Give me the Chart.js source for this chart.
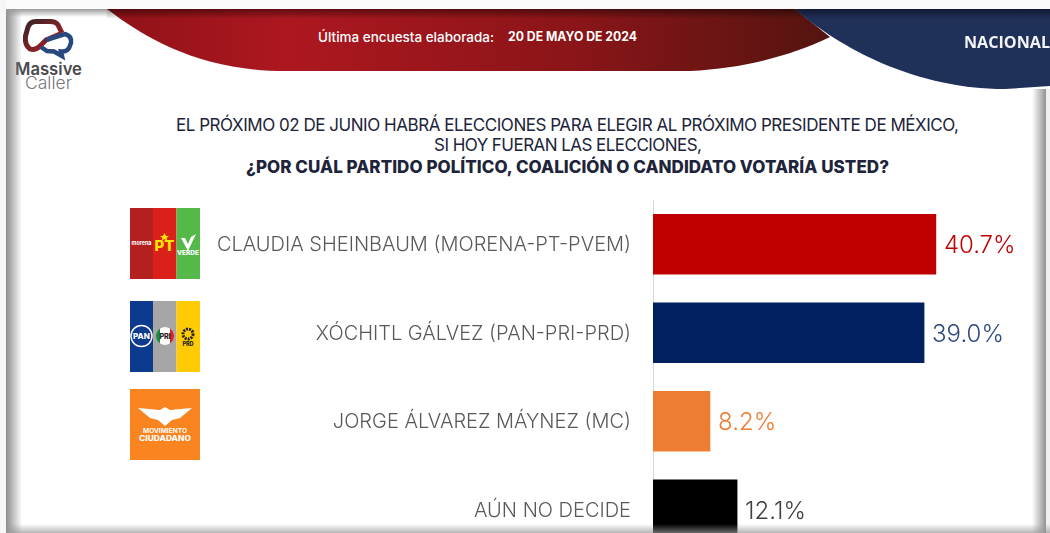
<!DOCTYPE html>
<html>
<head>
<meta charset="utf-8">
<script src="https://cdn.jsdelivr.net/npm/chart.js@4"></script>
<style>
    html, body { margin: 0; padding: 0; background: #fff; }
    body { width: 1050px; height: 533px; overflow: hidden; position: relative; }
    #backdrop { position: absolute; left: 0; top: 0; }
    #chart-wrap { position: absolute; left: 0; top: 0; width: 1050px; height: 600px; }
    .edge { position: absolute; pointer-events: none; }
    #nacional { position: absolute; left: 0; top: 0; }
</style>
</head>
<body>
<svg id="backdrop" width="1050" height="533" viewBox="0 0 1050 533" font-family="Inter, 'Noto Sans', sans-serif">
    <defs>
        <linearGradient id="redFill" x1="0" y1="0" x2="1" y2="0">
            <stop offset="0" stop-color="#8f1218"/>
            <stop offset="0.25" stop-color="#ad1720"/>
            <stop offset="0.65" stop-color="#8a1518"/>
            <stop offset="1" stop-color="#541410"/>
        </linearGradient>
        <linearGradient id="topShade" x1="0" y1="0" x2="0" y2="1">
            <stop offset="0" stop-color="#000" stop-opacity="0.45"/>
            <stop offset="1" stop-color="#000" stop-opacity="0"/>
        </linearGradient>
        <linearGradient id="ring1" x1="0" y1="0" x2="1" y2="1">
            <stop offset="0" stop-color="#3a2424"/>
            <stop offset="1" stop-color="#b3202a"/>
        </linearGradient>
    </defs>

    <!-- header swooshes -->
    <path d="M107 9 C150 42 205 71 285 71 L690 71 C745 68 790 56 830 37 L795 9 Z" fill="url(#redFill)"/>
    <path d="M795 9 C840 48 915 89 1005 89 L1050 86 L1050 9 Z" fill="#1f3059"/>
    <rect x="107" y="9" width="943" height="10" fill="url(#topShade)"/>
    <text x="318" y="42" fill="#fff" font-size="13.500" font-weight="500" textLength="176" lengthAdjust="spacingAndGlyphs">Última encuesta elaborada:</text>
    <text x="508" y="41" fill="#fff" font-size="12.5" font-weight="700" textLength="129" lengthAdjust="spacingAndGlyphs">20 DE MAYO DE 2024</text>

    <!-- Massive Caller mark -->
    <path d="M62 33 L58 25 Q56 21.500 50 21.500 L36 21.500 Q30 21.500 28 27 L25.500 36 Q24.500 45 30 49 Q35 51 40 46 L46 40 L60 34" fill="none" stroke="url(#ring1)" stroke-width="5"/>
    <path d="M46 40 L65 34 Q72 36 71 43 L69 48 Q67 52 61 51.500 L62 56 L54 51.500 L47 51 L41 47" fill="none" stroke="#28497f" stroke-width="4.500"/>
    <text x="15" y="75" fill="#4a4a4d" font-size="17" font-weight="600" textLength="67" lengthAdjust="spacingAndGlyphs">Massive</text>
    <text x="25" y="89" fill="#77777a" font-size="17" font-weight="300" textLength="47" lengthAdjust="spacingAndGlyphs">Caller</text>

    <!-- question -->
    <g fill="#20243a">
        <text x="176" y="131" font-size="17" textLength="783">EL PRÓXIMO 02 DE JUNIO HABRÁ ELECCIONES PARA ELEGIR AL PRÓXIMO PRESIDENTE DE MÉXICO,</text>
        <text x="434" y="151" font-size="17" textLength="268">SI HOY FUERAN LAS ELECCIONES,</text>
        <text x="246" y="173" font-size="17" font-weight="800" textLength="643">¿POR CUÁL PARTIDO POLÍTICO, COALICIÓN O CANDIDATO VOTARÍA USTED?</text>
    </g>

    <!-- morena / PT / verde -->
    <rect x="130" y="208" width="23" height="71" fill="#b41f1f"/>
    <rect x="153" y="208" width="23.5" height="71" fill="#da2019"/>
    <rect x="176.500" y="208" width="23.500" height="71" fill="#54b948"/>
    <text x="141.500" y="245" fill="#fff" font-size="6.500" font-weight="700" text-anchor="middle" textLength="20" lengthAdjust="spacingAndGlyphs">morena</text>
    <text x="164.500" y="251" fill="#ffe600" font-size="15" font-weight="800" text-anchor="middle">PT</text>
    <path d="M163 236 l1.500 -3 l1.500 3 l3 0 l-2.500 2 l1 3 l-3 -2 l-3 2 l1 -3 l-2.500 -2 z" fill="#ffe600"/>
    <path d="M181 238 L188 251 L196 234 L191 237 L188 244 L185 238 Z" fill="#fff"/>
    <text x="188" y="255" fill="#fff" font-size="6.500" font-weight="800" text-anchor="middle">VERDE</text>

    <!-- PAN / PRI / PRD -->
    <rect x="130" y="301" width="23" height="71" fill="#0b3a8e"/>
    <rect x="153" y="301" width="23.5" height="71" fill="#a6a6a6"/>
    <rect x="176.500" y="301" width="23.500" height="71" fill="#ffcb05"/>
    <circle cx="141.500" cy="336" r="10.500" fill="#0b3a8e" stroke="#fff" stroke-width="1.500"/>
    <text x="141.500" y="339" fill="#fff" font-size="8" font-weight="800" text-anchor="middle">PAN</text>
    <circle cx="165" cy="336" r="9" fill="#fff"/>
    <path d="M160 328.500 A9 9 0 0 0 160 343.500 Z" fill="#1b8a3e"/>
    <path d="M170 328.500 A9 9 0 0 1 170 343.500 Z" fill="#d8232a"/>
    <text x="165" y="339" fill="#222" font-size="7" font-weight="800" text-anchor="middle">PRI</text>
    <circle cx="188" cy="334" r="5" fill="none" stroke="#222" stroke-width="3" stroke-dasharray="2 1"/>
    <text x="188" y="346" fill="#222" font-size="5.500" font-weight="800" text-anchor="middle">PRD</text>

    <!-- Movimiento Ciudadano -->
    <rect x="130" y="389" width="70" height="71" fill="#f98420"/>
    <path d="M138 408 L160 410 L165 407 L170 410 L192 408 L180 418 L172 420 L165 426 L158 420 L150 418 Z" fill="#fff"/>
    <text x="165" y="433" fill="#fff" font-size="5.500" font-weight="700" text-anchor="middle" textLength="44" lengthAdjust="spacingAndGlyphs">MOVIMIENTO</text>
    <text x="165" y="441" fill="#fff" font-size="7" font-weight="800" text-anchor="middle" textLength="52" lengthAdjust="spacingAndGlyphs">CIUDADANO</text>
</svg>

<div id="chart-wrap"><canvas id="chart"></canvas></div>

<!-- page shadow around the slide -->
<div class="edge" style="left:0;top:0;width:1050px;height:9px;background:#fbfbfb"></div>
<div class="edge" style="left:0;top:0;width:6px;height:533px;background:#f6f6f6"></div>
<div class="edge" style="left:6px;top:9px;width:16px;height:524px;background:linear-gradient(to right,#8c8c8c,rgba(255,255,255,0))"></div>
<div class="edge" style="left:6px;top:9px;width:101px;height:8px;background:linear-gradient(to bottom,#9a9a9a,rgba(255,255,255,0))"></div>
<div class="edge" style="left:1032px;top:89px;width:14px;height:444px;background:linear-gradient(to left,rgba(110,110,110,.75),rgba(255,255,255,0))"></div>
<div class="edge" style="left:1046px;top:89px;width:4px;height:444px;background:#f0f0f0"></div>
<div class="edge" style="left:6px;top:524px;width:1044px;height:9px;background:linear-gradient(to top,rgba(150,150,150,.7),rgba(255,255,255,0))"></div>

<svg id="nacional" width="1050" height="60" viewBox="0 0 1050 60">
    <text x="964" y="48" fill="#f4f5f8" font-size="16" font-weight="700" font-family="'Open Sans', sans-serif" textLength="86" lengthAdjust="spacingAndGlyphs">NACIONAL</text>
</svg>

<script>
const categories = [
    'CLAUDIA SHEINBAUM (MORENA-PT-PVEM)',
    'XÓCHITL GÁLVEZ (PAN-PRI-PRD)',
    'JORGE ÁLVAREZ MÁYNEZ (MC)',
    'AÚN NO DECIDE'
];
const percentages = [40.7, 39.0, 8.2, 12.1];
const barColors = ['#c00000', '#002060', '#ed7d31', '#000000'];
const labelColors = ['#c00000', '#2f4a7f', '#ed7d31', '#404040'];

// Writes the percentage just past the end of each bar
const valueLabels = {
    id: 'valueLabels',
    afterDatasetsDraw(chart) {
        const { ctx } = chart;
        const meta = chart.getDatasetMeta(0);
        ctx.save();
        ctx.font = '300 24px Inter, sans-serif';
        ctx.textAlign = 'left';
        ctx.textBaseline = 'middle';
        meta.data.forEach((bar, i) => {
            ctx.fillStyle = labelColors[i];
            ctx.fillText(percentages[i].toFixed(1) + '%', bar.x + 8, bar.y + 2);
        });
        ctx.restore();
    }
};

new Chart(document.getElementById('chart'), {
    type: 'bar',
    data: {
        labels: categories,
        datasets: [{
            data: percentages,
            backgroundColor: barColors,
            barThickness: 60,
            borderWidth: 0
        }]
    },
    options: {
        indexAxis: 'y',
        responsive: true,
        maintainAspectRatio: false,
        animation: false,
        layout: { padding: { top: 200, bottom: 46 } },
        plugins: {
            legend: { display: false },
            tooltip: { enabled: false }
        },
        scales: {
            x: { display: false, min: 0, max: 57.12 },
            y: {
                afterFit: (scale) => { scale.width = 653; },
                grid: { display: false, drawTicks: false },
                border: { display: true, color: '#d9d9d9', width: 1 },
                ticks: {
                    color: '#595959',
                    padding: 22,
                    labelOffset: 1,
                    font: { family: 'Inter, sans-serif', size: 20, weight: '300' }
                }
            }
        }
    },
    plugins: [valueLabels]
});
</script>
</body>
</html>
